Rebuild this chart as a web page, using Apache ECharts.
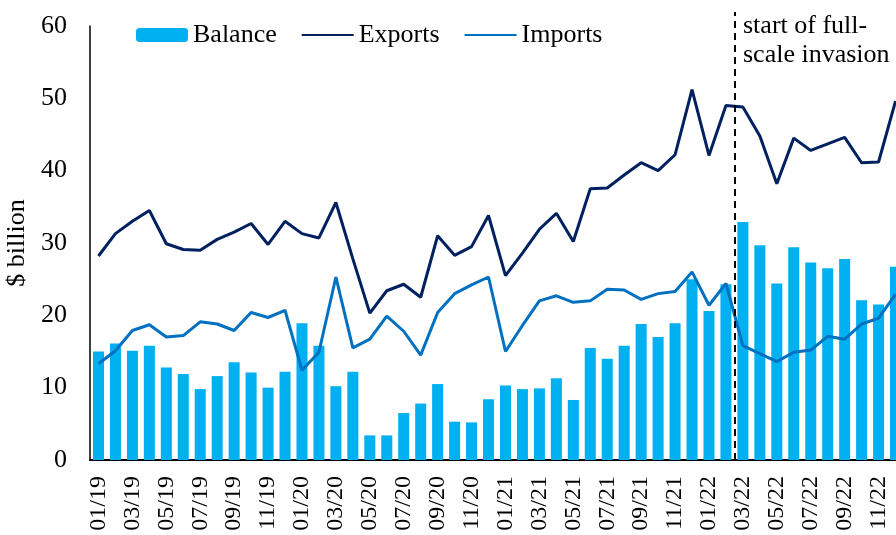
<!DOCTYPE html>
<html>
<head>
<meta charset="utf-8">
<script src="https://cdn.jsdelivr.net/npm/echarts@6/dist/echarts.min.js"></script>
<style>
  html, body { margin: 0; padding: 0; background: #fff; }
  #chart { width: 896px; height: 535px; }
</style>
</head>
<body>
<div id="chart"></div>
<script>
// months
let months = ['01/19','02/19','03/19','04/19','05/19','06/19','07/19','08/19','09/19','10/19','11/19','12/19',
  '01/20','02/20','03/20','04/20','05/20','06/20','07/20','08/20','09/20','10/20','11/20','12/20',
  '01/21','02/21','03/21','04/21','05/21','06/21','07/21','08/21','09/21','10/21','11/21','12/21',
  '01/22','02/22','03/22','04/22','05/22','06/22','07/22','08/22','09/22','10/22','11/22','12/22'];
// $ billion
let balance = [15.0,16.1,15.1,15.8,12.8,11.9,9.8,11.6,13.5,12.1,10.0,12.2,
  18.9,15.8,10.2,12.2,3.4,3.4,6.5,7.8,10.5,5.3,5.2,8.4,
  10.3,9.8,9.9,11.3,8.3,15.5,14.0,15.8,18.8,17.0,18.9,25.0,
  20.6,24.3,32.9,29.7,24.4,29.4,27.3,26.5,27.8,22.1,21.5,26.7];
let exportsData = [28.2,31.3,33.0,34.5,29.9,29.1,29.0,30.5,31.5,32.7,29.8,33.0,
  31.3,30.7,35.6,27.8,20.3,23.4,24.3,22.5,31.0,28.3,29.5,33.8,
  25.5,28.6,31.9,34.1,30.2,37.5,37.6,39.4,41.1,40.0,42.2,51.2,
  42.1,49.0,48.8,44.8,38.2,44.5,42.8,43.7,44.6,41.1,41.2,49.6];
let importsData = [13.3,15.1,17.9,18.7,17.0,17.2,19.1,18.8,17.9,20.4,19.7,20.7,
  12.4,14.9,25.3,15.5,16.7,19.9,17.8,14.5,20.4,23.0,24.2,25.3,
  15.0,18.6,22.0,22.7,21.8,22.0,23.6,23.5,22.2,23.0,23.3,26.0,
  21.4,24.4,15.8,14.7,13.6,14.9,15.2,17.1,16.7,18.8,19.6,22.9];
// invasion marker: boundary between 02/22 and 03/22
let invasionAt = 38;
let invasionText = 'start of full-\nscale invasion';

let font = "'Liberation Serif', 'Times New Roman', serif";

let myChart = echarts.init(document.getElementById('chart'));
myChart.setOption({
  animation: false,
  textStyle: { fontFamily: font, color: '#000' },
  // plot runs a bit past the right edge, last bar is cut
  grid: { left: 90, width: 814, top: 26, height: 434, outerBoundsMode: 'none' },
  legend: {
    left: 131,
    top: 17,
    itemWidth: 52,
    itemHeight: 14,
    itemGap: 24,
    textStyle: { fontFamily: font, fontSize: 26, color: '#000' },
    data: [
      'Balance',
      { name: 'Exports', itemStyle: { opacity: 0 } },
      { name: 'Imports', itemStyle: { opacity: 0 } }
    ]
  },
  xAxis: [
    {
      type: 'category',
      data: months,
      axisLine: { lineStyle: { color: '#000', width: 2 } },
      axisTick: { show: false },
      axisLabel: {
        interval: 1,
        rotate: 90,
        margin: 16,
        fontFamily: font,
        fontSize: 24,
        color: '#000'
      }
    },
    // helper axis for the marker line
    { type: 'value', min: 0, max: months.length, show: false }
  ],
  yAxis: {
    type: 'value',
    min: 0,
    max: 60,
    interval: 10,
    name: '$ billion',
    nameLocation: 'middle',
    nameGap: 51,
    nameTextStyle: { fontFamily: font, fontSize: 26, color: '#000' },
    axisLine: { show: true, lineStyle: { color: '#000', width: 1.5 } },
    axisTick: { show: false },
    splitLine: { show: false },
    axisLabel: { margin: 23, fontFamily: font, fontSize: 26, color: '#000' }
  },
  graphic: [{
    type: 'text',
    left: 743,
    top: 12,
    style: { text: invasionText, font: '26px ' + font, fill: '#000', lineHeight: 29 }
  }],
  series: [
    {
      name: 'Balance',
      type: 'bar',
      data: balance,
      barWidth: '65%',
      itemStyle: { color: '#00B0F0' }
    },
    {
      name: 'Exports',
      type: 'line',
      data: exportsData,
      symbol: 'none',
      lineStyle: { color: '#002060', width: 3 },
      itemStyle: { color: '#002060' }
    },
    {
      name: 'Imports',
      type: 'line',
      data: importsData,
      symbol: 'none',
      lineStyle: { color: '#0070C0', width: 3 },
      itemStyle: { color: '#0070C0' }
    },
    {
      name: 'marker',
      type: 'line',
      xAxisIndex: 1,
      data: [],
      clip: false,
      markLine: {
        silent: true,
        symbol: 'none',
        label: { show: false },
        lineStyle: { color: '#000', type: [7, 5], width: 2 },
        // top end raised above the plot, as in the original
        data: [[{ coord: [invasionAt, 0] }, { coord: [invasionAt, 60], y: 12 }]]
      }
    }
  ]
});
</script>
</body>
</html>
